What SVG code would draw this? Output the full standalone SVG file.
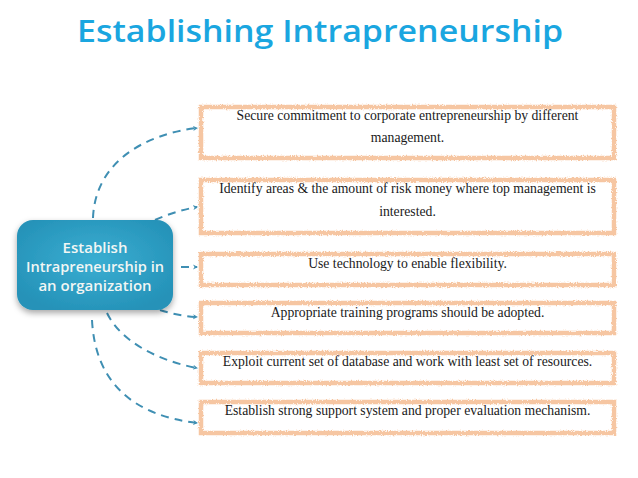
<svg xmlns="http://www.w3.org/2000/svg" width="638" height="478" viewBox="0 0 638 478">
<defs>
<style>
.title{font-family:"Open Sans","DejaVu Sans",sans-serif;font-size:31px;fill:#1aa6e0;font-weight:600}
.nt{font-family:"Open Sans","DejaVu Sans",sans-serif;font-size:15px;font-weight:600;fill:#f2f6f4}
.bt{font-family:"Liberation Serif","Times New Roman",serif;font-size:13.7px;fill:#1a1a1a}
.box{fill:#ffffff;stroke:#f6c6a2;stroke-width:4.5;filter:url(#rough)}
.con{fill:none;stroke:#3f8fb3;stroke-width:2;stroke-dasharray:8 6}
</style>
<filter id="rough" x="-5%" y="-20%" width="110%" height="140%">
<feTurbulence type="fractalNoise" baseFrequency="0.8" numOctaves="2" seed="3" result="n"/>
<feDisplacementMap in="SourceGraphic" in2="n" scale="3.5" xChannelSelector="R" yChannelSelector="G"/>
</filter>
<filter id="shadow" x="-20%" y="-20%" width="140%" height="150%">
<feDropShadow dx="0" dy="3" stdDeviation="3" flood-color="#000" flood-opacity="0.35"/>
</filter>
<radialGradient id="ng" cx="50%" cy="45%" r="60%">
<stop offset="0" stop-color="#3aaed2"/>
<stop offset="1" stop-color="#2592b8"/>
</radialGradient>
<marker id="arr" markerWidth="6" markerHeight="6" refX="4" refY="3" orient="auto" markerUnits="userSpaceOnUse">
<path d="M0,0.5 L5,3 L0,5.5 L1.5,3 Z" fill="#3f8fb3"/>
</marker>
</defs>
<rect width="638" height="478" fill="#ffffff"/>
<text class="title" x="320" y="42" text-anchor="middle" textLength="486" lengthAdjust="spacingAndGlyphs">Establishing Intrapreneurship</text>

<g id="connectors">
<path class="con" d="M93,218 C95,165 140,135 197,128" marker-end="url(#arr)"/>
<path class="con" d="M155,220 Q175,211 197,207" marker-end="url(#arr)"/>
<path class="con" d="M181,267 L197,267" marker-end="url(#arr)"/>
<path class="con" d="M160,310 Q178,316 197,317" marker-end="url(#arr)"/>
<path class="con" d="M107,313 C120,340 155,360 197,368" marker-end="url(#arr)"/>
<path class="con" d="M92,320 C95,380 130,415 197,423" marker-end="url(#arr)"/>
</g>

<g id="center">
<rect x="17" y="220" width="156" height="90" rx="16" fill="url(#ng)" filter="url(#shadow)"/>
<text class="nt" x="95" text-anchor="middle"><tspan x="95" y="253">Establish</tspan><tspan x="95" y="272" textLength="138" lengthAdjust="spacingAndGlyphs">Intrapreneurship in</tspan><tspan x="95" y="291">an organization</tspan></text>
</g>

<g id="box1">
<rect class="box" x="201" y="107" width="413" height="51"/>
<text class="bt" x="407.5" y="120" text-anchor="middle">Secure commitment to corporate entrepreneurship by different</text>
<text class="bt" x="407.5" y="142" text-anchor="middle">management.</text>
</g>
<g id="box2">
<rect class="box" x="201" y="180" width="413" height="53"/>
<text class="bt" x="407.5" y="193" text-anchor="middle">Identify areas &amp; the amount of risk money where top management is</text>
<text class="bt" x="407.5" y="216" text-anchor="middle">interested.</text>
</g>
<g id="box3">
<rect class="box" x="201" y="254" width="413" height="31"/>
<text class="bt" x="407.5" y="268" text-anchor="middle">Use technology to enable flexibility.</text>
</g>
<g id="box4">
<rect class="box" x="201" y="303" width="413" height="30"/>
<text class="bt" x="407.5" y="317" text-anchor="middle">Appropriate training programs should be adopted.</text>
</g>
<g id="box5">
<rect class="box" x="201" y="353" width="413" height="30"/>
<text class="bt" x="407.5" y="366" text-anchor="middle">Exploit current set of database and work with least set of resources.</text>
</g>
<g id="box6">
<rect class="box" x="201" y="402" width="413" height="31"/>
<text class="bt" x="407.5" y="415" text-anchor="middle">Establish strong support system and proper evaluation mechanism.</text>
</g>
</svg>
